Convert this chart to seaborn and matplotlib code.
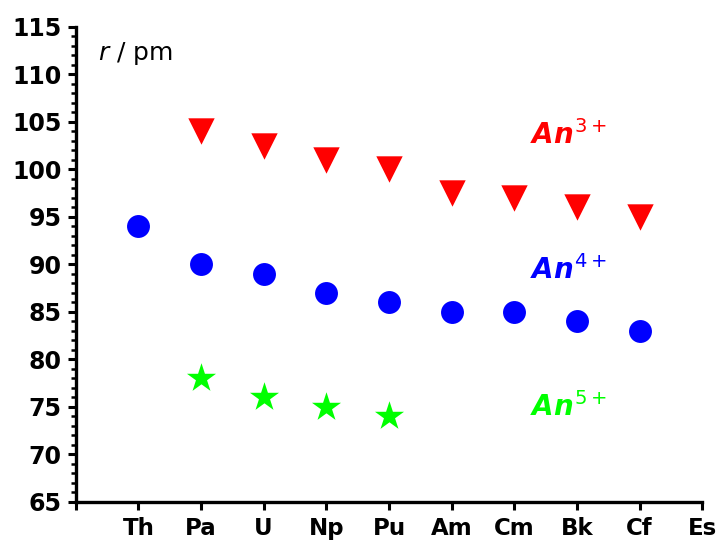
import matplotlib
matplotlib.use("Agg")
import matplotlib.pyplot as plt
from matplotlib.ticker import MultipleLocator
import seaborn as sns
import pandas as pd

# element order along the x axis (position 0 left blank)
elements = ["Th", "Pa", "U", "Np", "Pu", "Am", "Cm", "Bk", "Cf", "Es"]

# ionic radii (pm)
an3_elems = ["Pa", "U", "Np", "Pu", "Am", "Cm", "Bk", "Cf"]
an3_r = [104, 102.5, 101, 100, 97.5, 97, 96, 95]
an4_elems = ["Th", "Pa", "U", "Np", "Pu", "Am", "Cm", "Bk", "Cf"]
an4_r = [94, 90, 89, 87, 86, 85, 85, 84, 83]
an5_elems = ["Pa", "U", "Np", "Pu"]
an5_r = [78, 76, 75, 74]

sns.set_style("ticks")
plt.rcParams["font.family"] = ["DejaVu Sans"]
plt.rcParams["text.color"] = "black"
plt.rcParams["xtick.color"] = "black"
plt.rcParams["ytick.color"] = "black"
plt.rcParams["mathtext.fontset"] = "custom"
plt.rcParams["mathtext.it"] = "DejaVu Sans:italic:bold"
plt.rcParams["mathtext.rm"] = "DejaVu Sans"
plt.rcParams["mathtext.sf"] = "DejaVu Sans:italic"

pos = {e: i + 1 for i, e in enumerate(elements)}


def frame(elems, vals, name):
    return pd.DataFrame({"x": [pos[e] for e in elems], "r": vals, "ion": name})


fig = plt.figure(figsize=(7.21, 5.46), dpi=100)
ax = fig.add_axes([0.105, 0.0806, 0.869, 0.87])

sns.scatterplot(data=frame(an3_elems, an3_r, "An3+"), x="x", y="r", marker="v",
                color="#ff0000", s=19**2, linewidth=0, ax=ax)
sns.scatterplot(data=frame(an4_elems, an4_r, "An4+"), x="x", y="r", marker="o",
                color="#0000ff", s=16.5**2, linewidth=0, ax=ax)
sns.scatterplot(data=frame(an5_elems, an5_r, "An5+"), x="x", y="r", marker="*",
                color="#00ff00", s=22**2, linewidth=0, ax=ax)

ax.set_xlim(0, 10)
ax.set_ylim(65, 115)
ax.set_xticks(range(0, 11))
ax.set_xticklabels([""] + elements, fontsize=16.5, fontweight="bold")
ax.yaxis.set_major_locator(MultipleLocator(5))
ax.yaxis.set_minor_locator(MultipleLocator(1))
for lab in ax.get_yticklabels():
    lab.set_fontsize(17)
    lab.set_fontweight("bold")
ax.set_xlabel("")
ax.set_ylabel("")

sns.despine(ax=ax)
for s in ["left", "bottom"]:
    ax.spines[s].set_linewidth(2.4)
    ax.spines[s].set_color("black")
ax.tick_params(axis="both", which="major", length=6, width=2.2, color="black", pad=4)
ax.tick_params(axis="y", which="minor", length=3.5, width=1.8, color="black")
ax.tick_params(axis="x", which="major", pad=5)

ax.text(0.35, 112.2, r"$\mathsf{r}$ / pm", fontsize=18, ha="left", va="center")
ax.text(7.25, 103.6, r"$An^{\mathrm{3+}}$", fontsize=20, color="#ff0000", va="center")
ax.text(7.25, 89.4, r"$An^{\mathrm{4+}}$", fontsize=20, color="#0000ff", va="center")
ax.text(7.25, 75.0, r"$An^{\mathrm{5+}}$", fontsize=20, color="#00ff00", va="center")

fig.savefig("out.png", dpi=100)
